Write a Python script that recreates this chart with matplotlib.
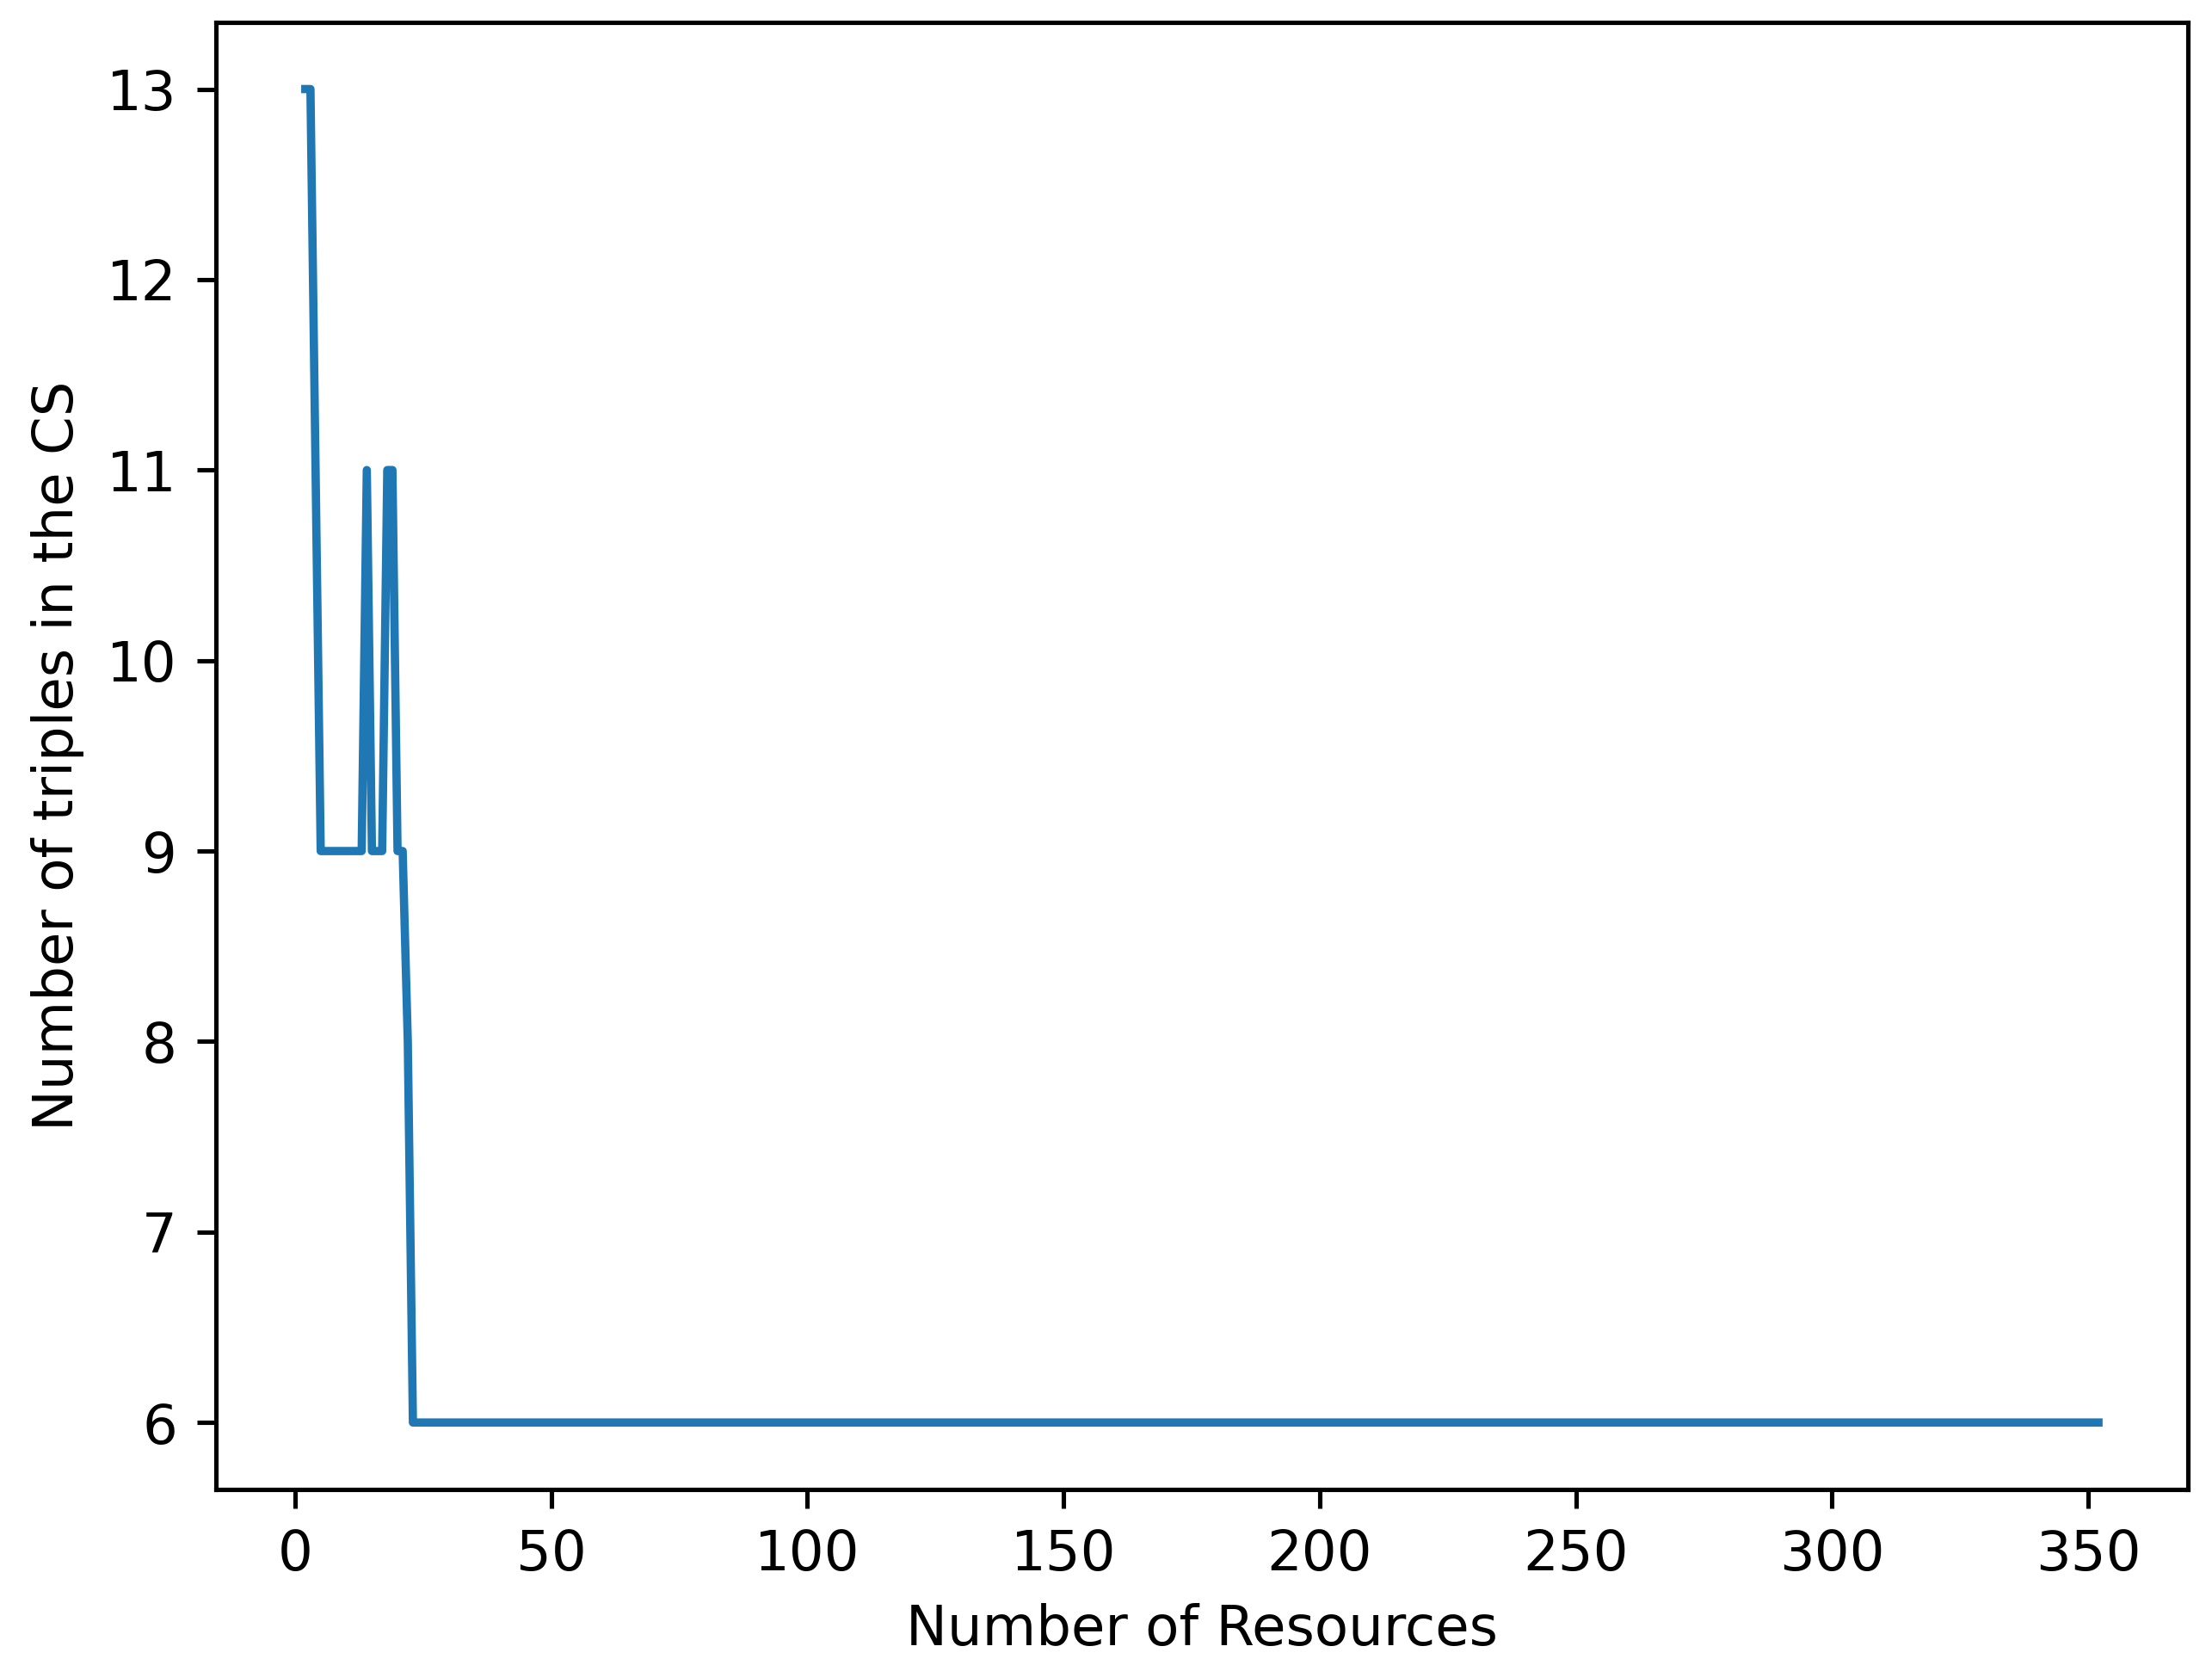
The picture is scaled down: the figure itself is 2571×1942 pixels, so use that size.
import matplotlib.pyplot as plt

# values (x = number of resources, y = triples in the CS)
resources = [2, 3, 5, 13, 14, 15, 17, 18, 19, 20, 21, 22, 23, 352]
triples = [13, 13, 9, 9, 11, 9, 9, 11, 11, 9, 9, 8, 6, 6]

dpi = 462
fig = plt.figure(figsize=(2571 / dpi, 1942 / dpi), dpi=dpi)
ax = fig.add_axes([0.0975, 0.1088, 0.8917, 0.8778])

ax.plot(resources, triples)
ax.set_xlabel('Number of Resources')
ax.set_ylabel('Number of triples in the CS')

fig.savefig('out.png', dpi=dpi)
